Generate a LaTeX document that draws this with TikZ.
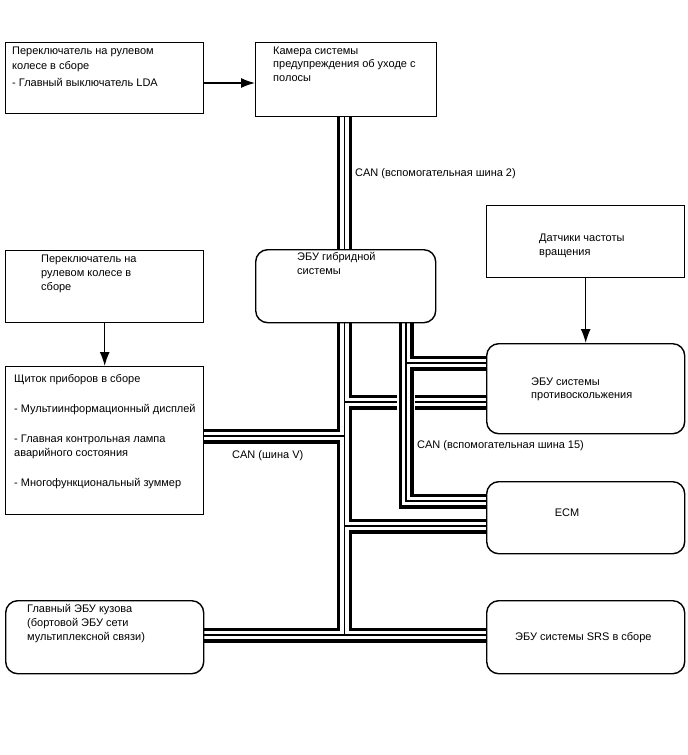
\documentclass[tikz,border=0pt]{standalone}
\usepackage{fontspec}
\setmainfont{Liberation Sans}
\usetikzlibrary{arrows.meta}
\newcommand\buslayers[1]{%
  \draw[black,line width=15pt,transform canvas={xshift=0.45pt,yshift=-0.45pt}] #1;
  \draw[white,line width=8.6pt] #1;
  \draw[black,line width=1.3pt] #1;}
\begin{document}
\begin{tikzpicture}[x=1pt,y=-1pt,
  box/.style={draw=black,line width=1.4pt,fill=white,anchor=north west,inner sep=0pt},
  rbox/.style={box,rounded corners=12pt},
  txt/.style={anchor=base west,inner sep=0pt,font=\fontsize{11}{13}\selectfont},
  arr/.style={line width=1.4pt,-{Latex[length=14pt,width=10pt]}},
  ghost/.style={anchor=north west,inner sep=0pt},
]
\useasboundingbox[fill=white] (0,0) rectangle (688,755);
% helper coordinates for bus positions
\coordinate (mx) at (344.5,0);
\coordinate (nx) at (406,0);
\coordinate (y3) at (0,363);
\coordinate (y4) at (0,402);
\coordinate (y5) at (0,436);
\coordinate (y2) at (0,501);
\coordinate (y6) at (0,526);
\coordinate (y7) at (0,635);
\coordinate (ay) at (0,83);
% box outlines used as anchors for the buses
\path (5,42) node[ghost,minimum width=198pt,minimum height=71pt] (sw1) {};
\path (255,42) node[ghost,minimum width=181pt,minimum height=74pt] (cam) {};
\path (255,249) node[ghost,minimum width=180pt,minimum height=73pt] (hyb) {};
\path (486,343) node[ghost,minimum width=198pt,minimum height=90pt] (abs) {};
\path (486,481) node[ghost,minimum width=198pt,minimum height=72pt] (ecm) {};
\path (5,366) node[ghost,minimum width=198pt,minimum height=148pt] (cl) {};
\path (5,600) node[ghost,minimum width=198pt,minimum height=73pt] (bcm) {};
\path (486,600) node[ghost,minimum width=198pt,minimum height=73pt] (srs) {};
% buses group 1
\buslayers{(cam.south -| mx) -- (mx |- y7)
  (mx |- y4) -- (abs.west |- y4)
  (mx |- y5) -- (cl.east |- y5)
  (mx |- y6) -- (ecm.west |- y6)
  (bcm.east |- y7) -- (srs.west |- y7)}
% crossing gap
\path (nx |- y4) node[fill=white,minimum width=18pt,minimum height=18pt,inner sep=0pt] (gap) {};
% buses group 2
\buslayers{(hyb.south -| nx) -- (nx |- y2) -- (ecm.west |- y2)
  (nx |- y3) -- (abs.west |- y3)}
% boxes
\node[box,minimum width=198pt,minimum height=71pt] (bsw1) at (5,42) {};
\node[box,minimum width=181pt,minimum height=74pt] (bcam) at (255,42) {};
\node[rbox,minimum width=180pt,minimum height=73pt] (bhyb) at (255,249) {};
\node[box,minimum width=198pt,minimum height=72pt] (bsens) at (486,205) {};
\node[box,minimum width=198pt,minimum height=72pt] (bsw2) at (5,250) {};
\node[rbox,minimum width=198pt,minimum height=90pt] (babs) at (486,343) {};
\node[rbox,minimum width=198pt,minimum height=72pt] (becm) at (486,481) {};
\node[box,minimum width=198pt,minimum height=148pt] (bcl) at (5,366) {};
\node[rbox,minimum width=198pt,minimum height=73pt] (bbcm) at (5,600) {};
\node[rbox,minimum width=198pt,minimum height=73pt] (bsrs) at (486,600) {};
% arrows
\draw[arr] (bsw1.east |- ay) -- (bcam.west |- ay);
\draw[arr] (bsens.south) -- (babs.north);
\draw[arr] (bsw2.south) -- (bcl.north);
% texts
\node[txt] (t1) at (12,54) {Переключатель на рулевом};
\node[txt] (t2) at (12,69) {колесе в сборе};
\node[txt] (t3) at (12,86) {- Главный выключатель LDA};
\node[txt] (t4) at (273,54) {Камера системы};
\node[txt] (t5) at (273,67) {предупреждения об уходе с};
\node[txt] (t6) at (273,81) {полосы};
\node[txt] (t7) at (355,176) {CAN (вспомогательная шина 2)};
\node[txt] (t8) at (297,260) {ЭБУ гибридной};
\node[txt] (t9) at (297,274) {системы};
\node[txt] (t10) at (539,241) {Датчики частоты};
\node[txt] (t11) at (539,255) {вращения};
\node[txt] (t12) at (41,262) {Переключатель на};
\node[txt] (t13) at (41,276) {рулевом колесе в};
\node[txt] (t14) at (41,290) {сборе};
\node[txt] (t15) at (531,385) {ЭБУ системы};
\node[txt] (t16) at (531,398) {противоскольжения};
\node[txt] (t17) at (417,448) {CAN (вспомогательная шина 15)};
\node[anchor=base,inner sep=0pt,font=\fontsize{11}{13}\selectfont] (t18) at (567,516) {ECM};
\node[txt] (t19) at (14,382) {Щиток приборов в сборе};
\node[txt] (t20) at (14,412) {- Мультиинформационный дисплей};
\node[txt] (t21) at (14,442) {- Главная контрольная лампа};
\node[txt] (t22) at (14,456) {аварийного состояния};
\node[txt] (t23) at (14,486) {- Многофункциональный зуммер};
\node[txt] (t24) at (232,458) {CAN (шина V)};
\node[txt] (t25) at (27,612) {Главный ЭБУ кузова};
\node[txt] (t26) at (27,626) {(бортовой ЭБУ сети};
\node[txt] (t27) at (27,640) {мультиплексной связи)};
\node[txt] (t28) at (515,640) {ЭБУ системы SRS в сборе};
\end{tikzpicture}
\end{document}
